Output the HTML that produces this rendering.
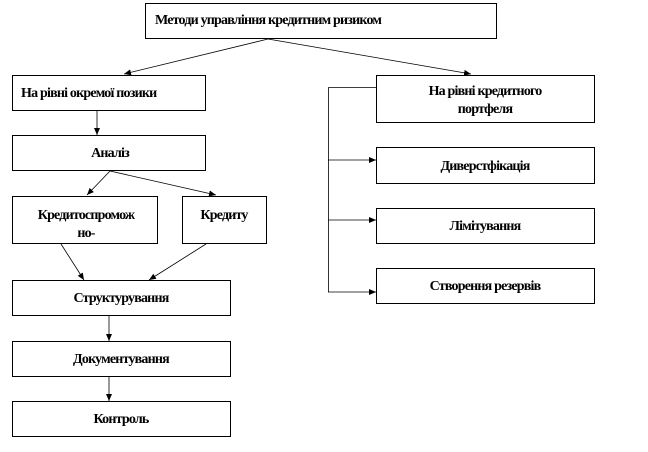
<!DOCTYPE html>
<html><head><meta charset="utf-8"><style>
body{margin:0;background:#fff;}
text{font-family:'Liberation Serif','Times New Roman',serif;font-weight:bold;font-size:14px;letter-spacing:-0.8px;fill:#000;}
</style></head><body>
<svg width="648" height="447" viewBox="0 0 648 447" xmlns="http://www.w3.org/2000/svg" font-family="Liberation Serif, serif">
<defs><marker id="a" markerWidth="8" markerHeight="8" refX="7" refY="3" orient="auto" markerUnits="userSpaceOnUse"><path d="M0,0 L7,3 L0,6 z" fill="#000"/></marker></defs>
<g fill="none" stroke="#000" stroke-width="1">
<rect x="145.5" y="3.5" width="351" height="35"/>
<rect x="12.5" y="75.5" width="193" height="35"/>
<rect x="12.5" y="135.5" width="193" height="35"/>
<rect x="12.5" y="196.5" width="145" height="47"/>
<rect x="182.5" y="196.5" width="84" height="47"/>
<rect x="12.5" y="280.5" width="218" height="35"/>
<rect x="12.5" y="341.5" width="218" height="35"/>
<rect x="12.5" y="401.5" width="218" height="35"/>
<rect x="376.5" y="75.5" width="218" height="47"/>
<rect x="376.5" y="147.5" width="218" height="36"/>
<rect x="376.5" y="208.5" width="218" height="35"/>
<rect x="376.5" y="268.5" width="218" height="35"/>
<g stroke-width="0.8">
<line x1="268" y1="39" x2="124" y2="74" marker-end="url(#a)"/>
<line x1="268" y1="39" x2="471" y2="74" marker-end="url(#a)"/>
<line x1="97" y1="111" x2="97" y2="135" marker-end="url(#a)"/>
<line x1="110" y1="171" x2="87" y2="195" marker-end="url(#a)"/>
<line x1="110" y1="171" x2="216" y2="195" marker-end="url(#a)"/>
<line x1="61" y1="244" x2="84" y2="280" marker-end="url(#a)"/>
<line x1="206" y1="244" x2="149" y2="280" marker-end="url(#a)"/>
<line x1="109" y1="316" x2="109" y2="341" marker-end="url(#a)"/>
<line x1="109" y1="377" x2="109" y2="401" marker-end="url(#a)"/>
<polyline points="376,87.5 328.5,87.5 328.5,292"/>
<line x1="328" y1="160" x2="376" y2="160" marker-end="url(#a)"/>
<line x1="328" y1="220" x2="376" y2="220" marker-end="url(#a)"/>
<line x1="328" y1="292" x2="376" y2="292" marker-end="url(#a)"/>
</g>
</g>
<g font-family="Liberation Serif, serif" font-weight="bold">
<text x="155" y="24">Методи управління кредитним ризиком</text>
<text x="21" y="97">На рівні окремої позики</text>
<text x="110" y="157" text-anchor="middle">Аналіз</text>
<text x="86" y="219" text-anchor="middle">Кредитоспромож</text>
<text x="86" y="237" text-anchor="middle">но-</text>
<text x="224" y="219" text-anchor="middle">Кредиту</text>
<text x="121" y="302" text-anchor="middle">Структурування</text>
<text x="121" y="363" text-anchor="middle">Документування</text>
<text x="121" y="423" text-anchor="middle">Контроль</text>
<text x="485" y="95" text-anchor="middle">На рівні кредитного</text>
<text x="485" y="113" text-anchor="middle">портфеля</text>
<text x="485" y="170" text-anchor="middle">Диверстфікація</text>
<text x="485" y="230" text-anchor="middle">Лімітування</text>
<text x="485" y="290" text-anchor="middle">Створення резервів</text>
</g>
</svg>
</body></html>
